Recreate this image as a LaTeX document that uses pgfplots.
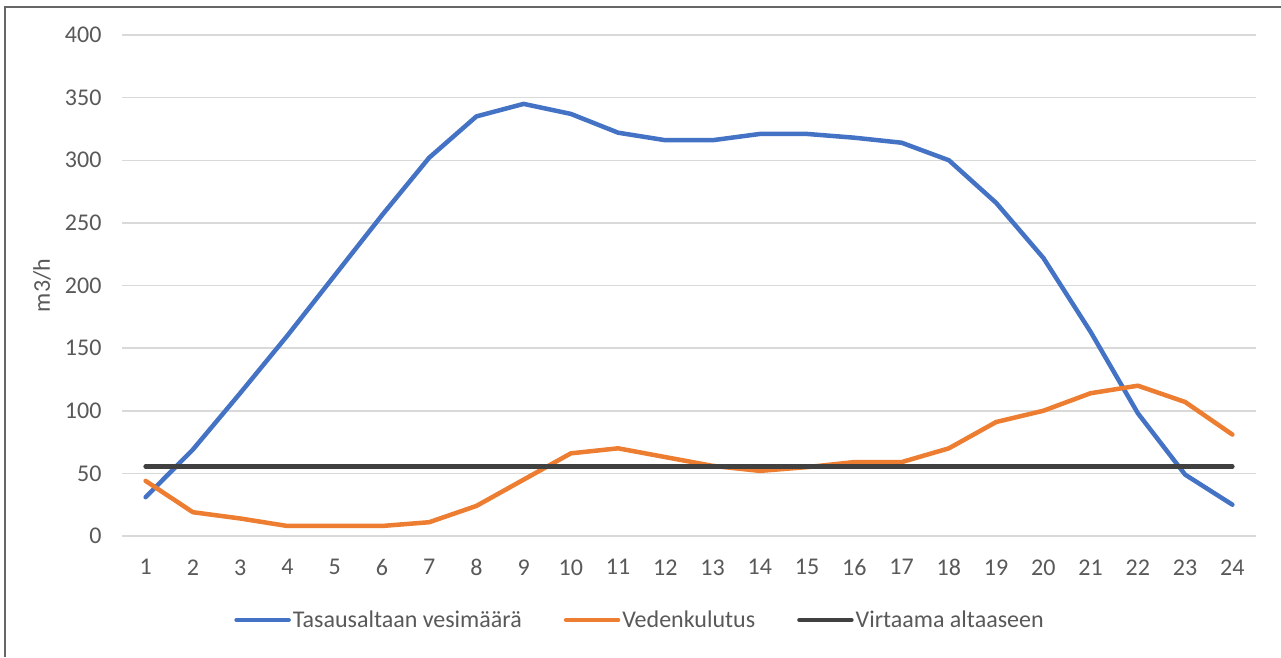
\documentclass[border=0pt]{standalone}
\usepackage{fontspec}
\setmainfont{Carlito}
\usepackage{pgfplots}
\pgfplotsset{compat=1.18}
\definecolor{cblue}{HTML}{4472C4}
\definecolor{corange}{HTML}{ED7D31}
\definecolor{cblack}{HTML}{404040}
\definecolor{cgrid}{HTML}{D9D9D9}
\definecolor{ctext}{HTML}{595959}
\begin{document}
\begin{tikzpicture}[x=1pt,y=1pt]
\useasboundingbox (0,0) rectangle (1281,657);
\fill[white] (0,0) rectangle (1281,657);
\draw[cblack!80, line width=1.6pt] (5,0) -- (5,650) -- (1281,650);
\begin{axis}[
  at={(122pt,121pt)}, anchor=south west,
  scale only axis, width=1134pt, height=501pt,
  xmin=0.5, xmax=24.5, ymin=0, ymax=400,
  xtick={1,...,24}, ytick={0,50,...,400},
  axis line style={draw=none},
  major tick length=0pt,
  ymajorgrids, grid style={cgrid, line width=1.5pt},
  /pgf/number format/assume math mode=true,
  ticklabel style={font=\fontsize{24}{28}\selectfont, text=ctext},
  yticklabel style={xshift=-17pt},
  xticklabel style={yshift=-20pt},
  ylabel={m3/h},
  every axis y label/.style={at={(axis description cs:-0.0705,0.5)}, rotate=90, anchor=center,
    font=\fontsize{24}{28}\selectfont, text=ctext},
  legend columns=3,
  legend style={at={(axis description cs:0.4568,-0.1677)}, anchor=center, draw=none, fill=none,
    font=\fontsize{24}{28}\selectfont, text=ctext,
    /tikz/every even column/.append style={column sep=40pt}},
  legend image code/.code={\draw[#1, line width=4.5pt] (0pt,0pt) -- (52pt,0pt);},
  every axis plot/.append style={line width=4.5pt, line join=round, line cap=round},
]
\addplot[cblue] coordinates {
(1,31) (2,69) (3,114) (4,160) (5,208) (6,256) (7,302) (8,335) (9,345) (10,337)
(11,322) (12,316) (13,316) (14,321) (15,321) (16,318) (17,314) (18,300) (19,266) (20,222)
(21,163) (22,98) (23,49) (24,25)};
\addlegendentry{Tasausaltaan vesimäärä}
\addplot[corange] coordinates {
(1,44) (2,19) (3,14) (4,8) (5,8) (6,8) (7,11) (8,24) (9,45) (10,66)
(11,70) (12,63) (13,56) (14,52) (15,55) (16,59) (17,59) (18,70) (19,91) (20,100)
(21,114) (22,120) (23,107) (24,81)};
\addlegendentry{Vedenkulutus}
\addplot[cblack] coordinates {
(1,55.5) (2,55.5) (3,55.5) (4,55.5) (5,55.5) (6,55.5) (7,55.5) (8,55.5) (9,55.5) (10,55.5)
(11,55.5) (12,55.5) (13,55.5) (14,55.5) (15,55.5) (16,55.5) (17,55.5) (18,55.5) (19,55.5) (20,55.5)
(21,55.5) (22,55.5) (23,55.5) (24,55.5)};
\addlegendentry{Virtaama altaaseen}
\end{axis}
\end{tikzpicture}
\end{document}
